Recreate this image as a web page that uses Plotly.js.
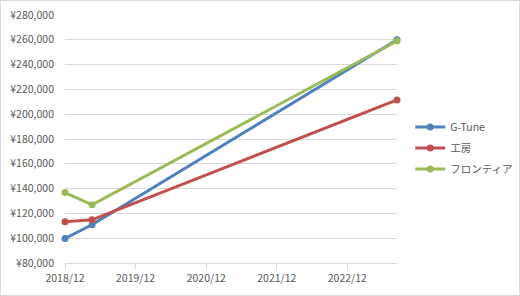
<!DOCTYPE html>
<html>
<head>
<meta charset="utf-8">
<script src="https://cdn.plot.ly/plotly-3.0.1.min.js"></script>
<style>
html,body{margin:0;padding:0;background:#fff;}
#chart{width:520px;height:296px;box-sizing:border-box;border:1px solid #D9D9D9;}
</style>
</head>
<body>
<div id="chart"></div>
<script>
var dates = ["2018-12-01", "2019-04-20", "2023-08-15"];
var gtune = [99800, 110800, 260000];
var kobo = [113300, 114800, 211500];
var frontier = [136800, 126900, 259000];
var seriesNames = ["G-Tune", "工房", "フロンティア"];
var colors = ["#4F81BD", "#C0504D", "#9BBB59"];
var tickDates = ["2018-12-01", "2019-12-01", "2020-12-01", "2021-12-01", "2022-12-01"];
var tickLabels = ["2018/12", "2019/12", "2020/12", "2021/12", "2022/12"];
var yTicks = [80000,100000,120000,140000,160000,180000,200000,220000,240000,260000,280000];

var font = "Meiryo, 'Noto Sans CJK JP', 'Noto Sans', sans-serif";
var series = [gtune, kobo, frontier];
var traces = series.map(function(vals, i){
  return {
    x: dates, y: vals, name: seriesNames[i], type: "scatter", mode: "lines+markers",
    legendgroup: "g" + i, cliponaxis: false,
    line: {color: colors[i], width: 3},
    marker: {color: colors[i], size: 7}
  };
});

var layout = {
  width: 518, height: 294,
  margin: {l: 64, r: 122, t: 14, b: 32, pad: 0, autoexpand: false},
  paper_bgcolor: "#fff", plot_bgcolor: "#fff",
  font: {family: font, size: 10.5, color: "#595959"},
  xaxis: {
    type: "date", range: [dates[0], dates[dates.length-1]],
    tickvals: tickDates, ticktext: tickLabels,
    showgrid: false, showline: true, linecolor: "#D9D9D9", linewidth: 1,
    ticks: "outside", ticklen: 5, tickcolor: "#D9D9D9",
    zeroline: false, fixedrange: true
  },
  yaxis: {
    range: [80000, 280000], tickvals: yTicks,
    ticktext: yTicks.map(function(v){ return "¥" + v.toLocaleString("en-US"); }),
    showgrid: true, gridcolor: "#D9D9D9", gridwidth: 1,
    zeroline: false, showline: false, ticks: "", ticklabelstandoff: 10,
    fixedrange: true
  },
  showlegend: true,
  legend: {xref: "container", yref: "container", x: 0.79, y: 0.5, xanchor: "left", yanchor: "middle",
    font: {family: font, size: 10.5, color: "#595959"}, traceorder: "grouped",
    tracegroupgap: 2, itemwidth: 30, bgcolor: "rgba(0,0,0,0)"}
};
Plotly.newPlot("chart", traces, layout, {displayModeBar: false, staticPlot: true});
</script>
</body>
</html>
